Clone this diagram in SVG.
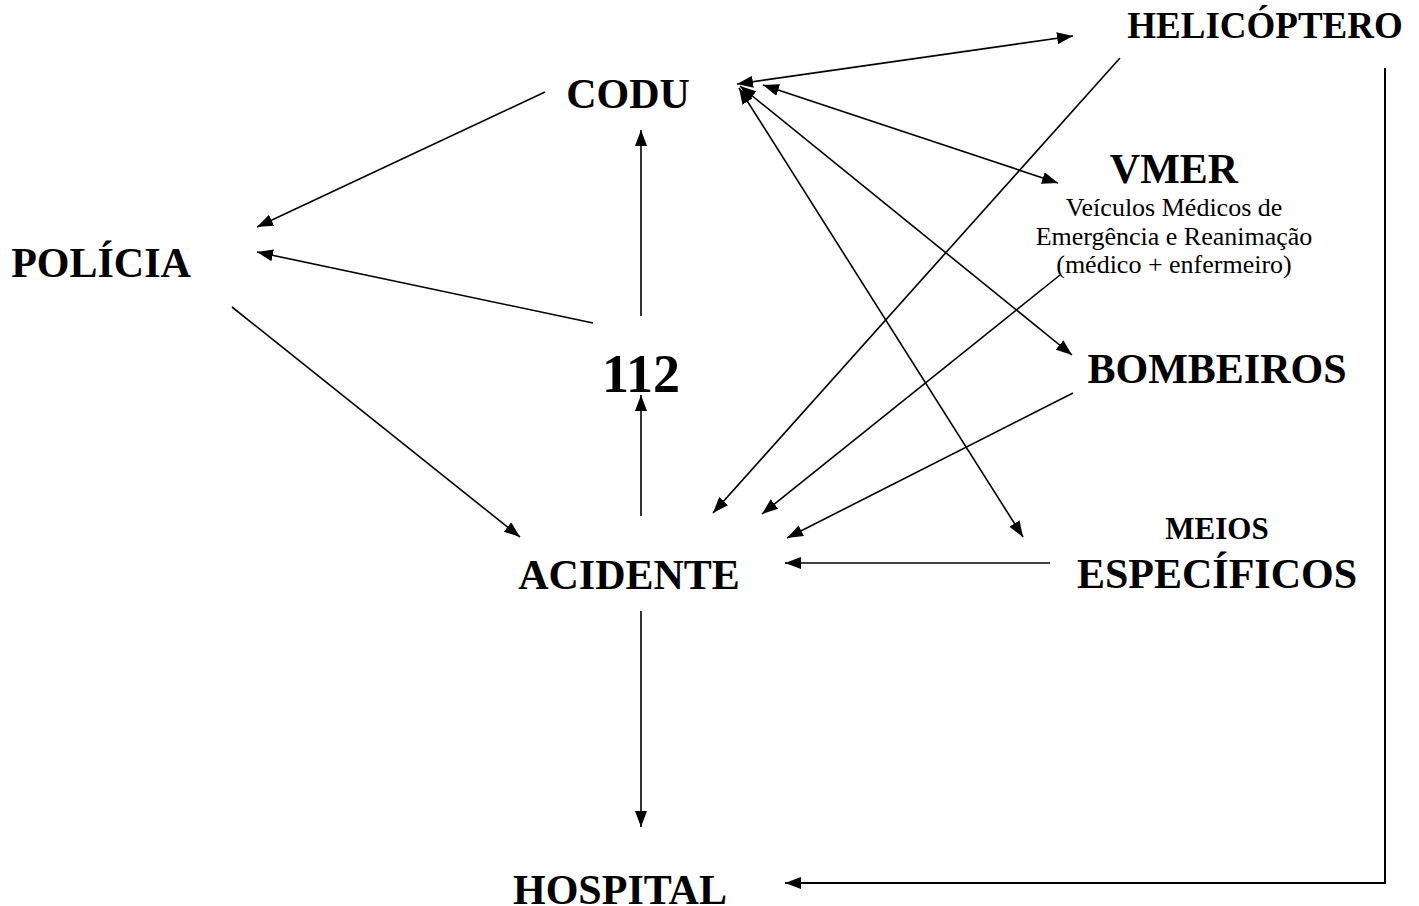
<svg xmlns="http://www.w3.org/2000/svg" width="1419" height="906" viewBox="0 0 1419 906">
<style>
.t{font-family:"Liberation Serif","Times New Roman",serif;font-weight:bold;fill:#000;text-anchor:middle}
.s{font-family:"Liberation Serif","Times New Roman",serif;fill:#000;text-anchor:middle;font-size:26px}
.c line,.c polyline{stroke:#000;stroke-width:1.6;fill:none}
</style>
<defs>
<marker id="ah" viewBox="0 0 16 12" refX="16" refY="6" markerWidth="16" markerHeight="12" markerUnits="userSpaceOnUse" orient="auto-start-reverse">
<path d="M0,0 L16,6 L0,12 z" fill="#000"/>
</marker>
</defs>
<rect width="1419" height="906" fill="#fff"/>
<g id="connectors" class="c">
<line x1="737" y1="84" x2="1073" y2="36" marker-start="url(#ah)" marker-end="url(#ah)"/>
<line x1="1120" y1="58" x2="713" y2="513" marker-end="url(#ah)"/>
<line x1="763" y1="85" x2="1058" y2="183" marker-start="url(#ah)" marker-end="url(#ah)"/>
<line x1="740" y1="86" x2="1072" y2="355" marker-start="url(#ah)" marker-end="url(#ah)"/>
<line x1="739" y1="88" x2="1023" y2="537" marker-start="url(#ah)" marker-end="url(#ah)"/>
<line x1="1060" y1="275" x2="762" y2="514" marker-end="url(#ah)"/>
<line x1="1073" y1="393" x2="787" y2="538" marker-end="url(#ah)"/>
<line x1="1050" y1="563" x2="785" y2="563" marker-end="url(#ah)"/>
<line x1="545" y1="92" x2="257" y2="227" marker-end="url(#ah)"/>
<line x1="593" y1="323" x2="257" y2="252" marker-end="url(#ah)"/>
<line x1="232" y1="307" x2="520" y2="537" marker-end="url(#ah)"/>
<line x1="641" y1="316" x2="641" y2="130" marker-end="url(#ah)"/>
<line x1="641" y1="516" x2="641" y2="395" marker-end="url(#ah)"/>
<line x1="641" y1="611" x2="641" y2="827" marker-end="url(#ah)"/>
<polyline points="1385,68 1385,883 785,883" style="stroke-width:2" marker-end="url(#ah)"/>
</g>
<g id="codu"><text class="t" x="628" y="108" font-size="42">CODU</text></g>
<g id="helicoptero"><text class="t" x="1265" y="38" font-size="37">HELICÓPTERO</text></g>
<g id="vmer">
<text class="t" x="1174" y="183" font-size="42">VMER</text>
<text class="s" x="1174" y="216">Veículos Médicos de</text>
<text class="s" x="1174" y="245">Emergência e Reanimação</text>
<text class="s" x="1174" y="273">(médico + enfermeiro)</text>
</g>
<g id="policia"><text class="t" x="101" y="277" font-size="42">POLÍCIA</text></g>
<g id="n112"><text class="t" x="641" y="392" font-size="54">112</text></g>
<g id="bombeiros"><text class="t" x="1217" y="383" font-size="42">BOMBEIROS</text></g>
<g id="acidente"><text class="t" x="629" y="589" font-size="42">ACIDENTE</text></g>
<g id="meios">
<text class="t" x="1217" y="539" font-size="31">MEIOS</text>
<text class="t" x="1217" y="588" font-size="42">ESPECÍFICOS</text>
</g>
<g id="hospital"><text class="t" x="620" y="904" font-size="42">HOSPITAL</text></g>
</svg>
